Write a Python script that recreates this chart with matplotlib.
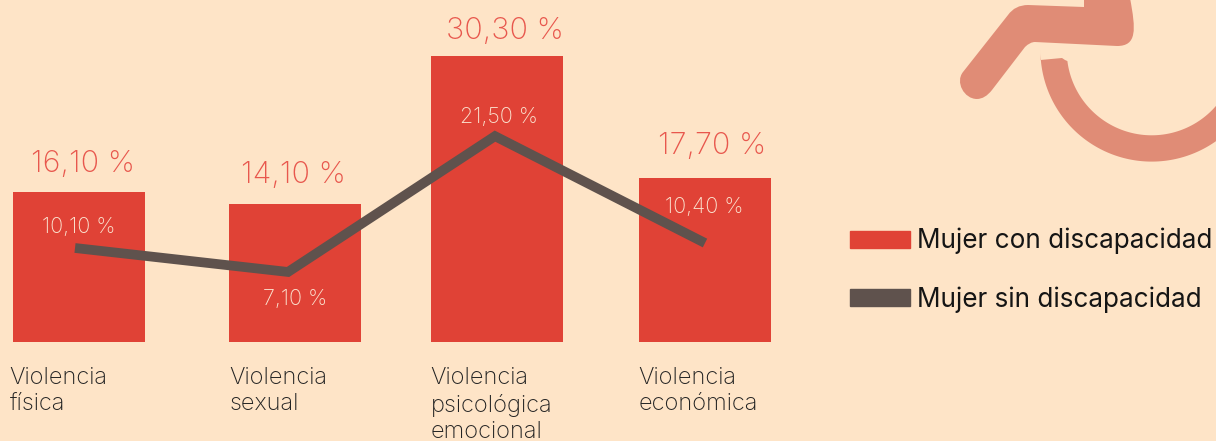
import matplotlib.pyplot as plt
import numpy as np
from matplotlib.patches import Patch, Polygon
from matplotlib.path import Path
from matplotlib.patches import PathPatch

# Data
categories = ["Violencia\nfísica", "Violencia\nsexual", "Violencia\npsicológica\nemocional", "Violencia\neconómica"]
con_disc = [15.96, 14.68, 30.4, 17.45]
sin_disc = [10.0, 7.45, 21.9, 10.53]
con_labels = ["16,10 %", "14,10 %", "30,30 %", "17,70 %"]
sin_labels = ["10,10 %", "7,10 %", "21,50 %", "10,40 %"]
series_names = ["Mujer con discapacidad", "Mujer sin discapacidad"]

# Layout (pixels, the bars are not evenly spaced)
bar_x = [79, 295, 497, 705]
line_x = [75, 288, 495, 705]
cat_x = [9.5, 229.5, 430.5, 638.5]
con_label_x = [83, 293.5, 505, 712]
con_label_y = [18.95, 17.77, 33.1, 20.86]
sin_label_x = [78.5, 295, 499, 704.5]
sin_label_y = [12.19, 4.61, 23.89, 14.39]
px_per_unit = 9.4

bg = "#FEE4C7"
red = "#E04236"
grey = "#5F524D"
label_red = "#E8574D"
text_dark = "#222222"
icon = "#E08C76"

plt.rcParams['font.family'] = ['Inter', 'DejaVu Sans']

fig = plt.figure(figsize=(12.16, 4.41), dpi=100, facecolor=bg)

# Icon in the corner, drawn first in pixel coordinates
ax_icon = fig.add_axes([0, 0, 1, 1])
ax_icon.set_xlim(0, 1216)
ax_icon.set_ylim(441, 0)
ax_icon.axis("off")

arm = Path(
    [(1084, -2), (1084, 7), (1028, 5), (1015, 5), (1008, 15), (963, 72), (955, 82), (964, 99),
     (977, 99), (985, 99), (992, 90), (1025, 47), (1030, 42), (1035, 42), (1117, 46), (1137, 46),
     (1136, 30), (1130, -2), (1084, -2)],
    [Path.MOVETO, Path.LINETO, Path.LINETO, Path.CURVE3, Path.CURVE3, Path.LINETO, Path.CURVE4, Path.CURVE4,
     Path.CURVE4, Path.CURVE3, Path.CURVE3, Path.LINETO, Path.CURVE3, Path.CURVE3, Path.LINETO, Path.CURVE4,
     Path.CURVE4, Path.CURVE4, Path.CLOSEPOLY])
ax_icon.add_patch(PathPatch(arm, fc=icon, ec="none"))

t = np.radians(np.linspace(-3, 150, 120))
cx, cy = 1151.7, 50.3
outer = np.c_[cx - 111.3 * np.cos(t), cy + 111.3 * np.sin(t)]
inner = np.c_[cx - 85 * np.cos(t), cy + 85 * np.sin(t)]
tip = np.array([[1062, 58], [1065, 60]])
ax_icon.add_patch(Polygon(np.vstack([outer[2:], inner[::-1][:-8], tip[::-1], [[1040.5, 60]]]), fc=icon, ec="none"))

# Main chart
ax = fig.add_axes([0, 0, 1, 1])
ax.patch.set_alpha(0)
ax.set_xlim(0, 1216)
ax.set_ylim(-99 / px_per_unit, 342 / px_per_unit)
ax.axis("off")

ax.bar(bar_x, con_disc, width=132, color=red, label=series_names[0])
ax.plot(line_x, sin_disc, color=grey, lw=7, solid_capstyle="butt", solid_joinstyle="miter", label=series_names[1])

for x, y, s in zip(con_label_x, con_label_y, con_labels):
    ax.text(x, y, s, ha="center", va="center", fontsize=22, color=label_red, fontweight="light")
for x, y, s in zip(sin_label_x, sin_label_y, sin_labels):
    ax.text(x, y, s, ha="center", va="center", fontsize=15.5, color="#FBE3D0", fontweight="light")
for x, s in zip(cat_x, categories):
    ax.text(x, -2.65, s, ha="left", va="top", fontsize=17, color=text_dark, fontweight="light", linespacing=1.27)

# Legend
handles = [Patch(color=red), Patch(color=grey)]
ax.legend(handles, series_names, loc="upper left", bbox_to_anchor=(850 / 1216, 1 - 228 / 441),
          frameon=False, fontsize=18.8, borderaxespad=0, borderpad=0, handlelength=2.28, handleheight=0.65,
          handletextpad=0.27, labelspacing=1.22, labelcolor="#151515")

fig.savefig("out.png", dpi=100, facecolor=bg)
